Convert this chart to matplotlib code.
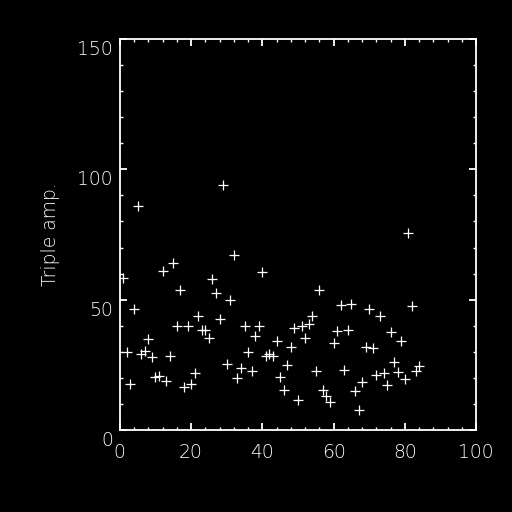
import numpy as np
import matplotlib
matplotlib.use('Agg')
import matplotlib.pyplot as plt
from matplotlib.ticker import MultipleLocator
from matplotlib.transforms import ScaledTranslation

plt.rcParams['font.family'] = ['DejaVu Sans']
plt.rcParams['font.weight'] = 'light'

# triple amplitude per index
idx = np.arange(1, 85)
amp = [58.2, 29.8, 17.6, 46.4, 85.8, 29.2, 30.3, 34.9, 28.0, 20.3,
       20.7, 60.9, 18.8, 28.4, 64.0, 40.1, 53.6, 16.6, 40.0, 17.6,
       21.9, 43.6, 38.2, 38.2, 35.3, 57.8, 52.6, 42.6, 93.9, 25.2,
       49.7, 67.1, 19.8, 23.7, 39.8, 29.8, 22.5, 35.9, 39.8, 60.6,
       28.3, 29.0, 28.3, 34.0, 20.2, 15.2, 24.8, 31.7, 39.0, 11.4,
       39.8, 35.2, 40.5, 43.6, 22.5, 53.6, 15.2, 12.9, 10.6, 33.3,
       37.9, 47.8, 22.9, 38.2, 48.2, 14.8, 7.6, 18.3, 31.7, 46.3,
       31.3, 21.0, 43.6, 21.7, 17.1, 37.5, 26.0, 22.1, 34.0, 19.4,
       75.4, 47.4, 22.5, 24.4]

fig = plt.figure(figsize=(5.12, 5.12), dpi=100, facecolor='black')
ax = fig.add_axes([0.234, 0.160, 0.696, 0.764], facecolor='black')

ax.plot(idx, amp, linestyle='none', marker='+', color='white',
        markersize=7, markeredgewidth=0.9)

ax.set_xlim(0, 100)
ax.set_ylim(0, 150)
ax.xaxis.set_major_locator(MultipleLocator(20))
ax.xaxis.set_minor_locator(MultipleLocator(4))
ax.yaxis.set_major_locator(MultipleLocator(50))
ax.yaxis.set_minor_locator(MultipleLocator(10))

for s in ax.spines.values():
    s.set_color('white')
    s.set_linewidth(1.3)
ax.tick_params(which='both', direction='in', colors='white', top=True, right=True,
               labelsize=13.5)
ax.tick_params(which='major', length=5, width=1.3)
ax.tick_params(which='minor', length=2.5, width=1.0)
ax.tick_params(axis='x', pad=9)
ax.tick_params(axis='y', pad=5)

# IDL-style y labels sit a bit below their ticks
off = ScaledTranslation(0, -6 / 72, fig.dpi_scale_trans)
for lab in ax.get_yticklabels():
    lab.set_transform(lab.get_transform() + off)

ax.set_ylabel('Triple amp.', color='white', fontsize=13.5, fontweight='light',
              labelpad=12)

fig.savefig('out.png', dpi=100, facecolor='black')
